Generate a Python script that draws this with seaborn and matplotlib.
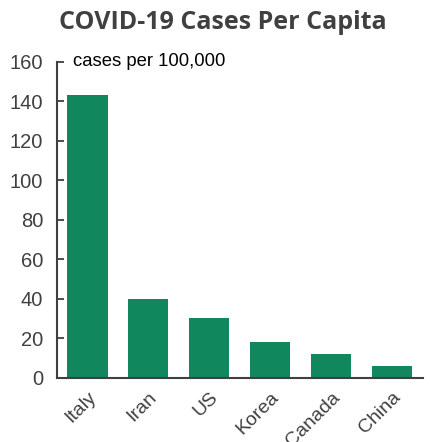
import matplotlib
matplotlib.use("Agg")
import matplotlib.pyplot as plt
import seaborn as sns
import pandas as pd
import numpy as np

countries = ["Italy", "Iran", "US", "Korea", "Canada", "China"]
cases_per_100k = [143.3, 40.0, 30.5, 18.0, 12.2, 5.9]
y_ticks = [0, 20, 40, 60, 80, 100, 120, 140, 160]

sns.set_theme(style="white")
plt.rcParams['font.family'] = ['Liberation Sans', 'DejaVu Sans']

df = pd.DataFrame({"country": countries, "cases": cases_per_100k})

fig = plt.figure(figsize=(4.31, 4.42), dpi=100)
ax = fig.add_axes([0.132, 0.145, 0.849, 0.715])
sns.barplot(data=df, x="country", y="cases", color="#11875d", saturation=1,
            width=0.66, ax=ax, edgecolor="none")

ax.set_ylim(0, 160)
ax.set_xlim(-0.5, 5.5)
ax.set_yticks(y_ticks)
ax.set_yticklabels([str(t) for t in y_ticks], fontsize=14.5, color="#404040")
ax.set_xlabel("")
ax.set_ylabel("")
ax.set_xticks(range(len(countries)))
ax.set_xticklabels(countries, rotation=45, ha="right", rotation_mode="anchor",
                   fontsize=14, color="#404040")
ax.set_xticks(np.arange(-0.5, 6.0, 1.0), minor=True)
ax.tick_params(axis="x", which="major", length=0, pad=8)
ax.tick_params(axis="x", which="minor", direction="in", length=5, width=1.3, color="#404040")
ax.tick_params(axis="y", direction="in", length=5, width=1.3, color="#404040", left=True, pad=10)

for s in ["top", "right"]:
    ax.spines[s].set_visible(False)
for s in ["left", "bottom"]:
    ax.spines[s].set_color("#404040")
    ax.spines[s].set_linewidth(1.5)

ax.text(0.043, 1.0, "cases per 100,000", transform=ax.transAxes, fontsize=13.3,
        color="black", va="center", ha="left")

fig.text(0.518, 0.948, "COVID-19 Cases Per Capita", ha="center", va="center",
         fontsize=18, fontweight="bold", color="#404040",
         family=["Open Sans", "DejaVu Sans"])

fig.savefig("out.png", dpi=100)
